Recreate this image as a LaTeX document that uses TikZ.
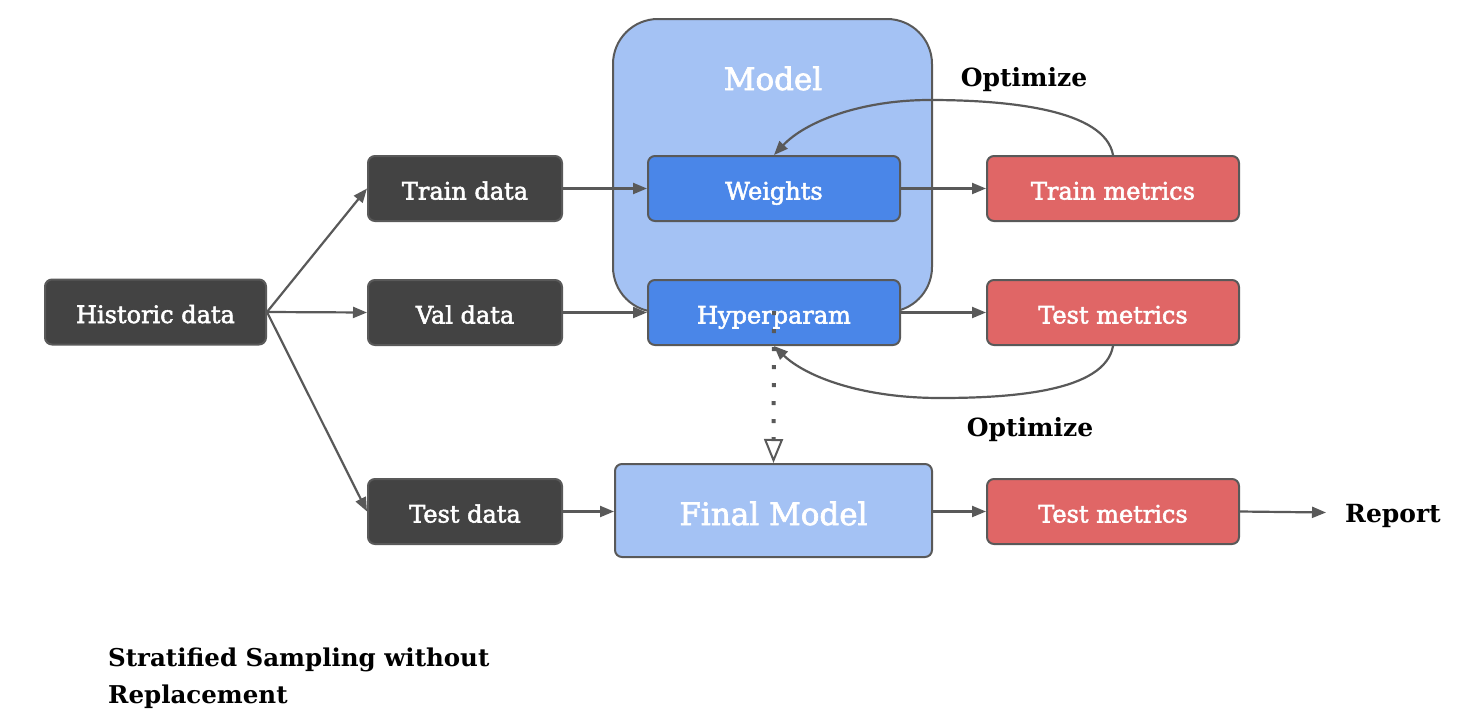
\documentclass[tikz,border=0pt]{standalone}
\usepackage{fontspec}
\setmainfont{DejaVu Serif}
\newfontfamily\boxfont{DejaVu Serif}[FakeBold=2.2]
\usetikzlibrary{arrows.meta}
\definecolor{darkbox}{HTML}{434343}
\definecolor{edgegray}{HTML}{595959}
\definecolor{lightblue}{HTML}{A4C2F4}
\definecolor{midblue}{HTML}{4A86E8}
\definecolor{redbox}{HTML}{E06666}
\tikzset{
  x=1pt, y=-1pt,
  box/.style={draw=edgegray, line width=2pt, rounded corners=7pt, inner sep=0pt,
    minimum height=65pt, text=white, text height=25pt, text depth=3pt,
    font=\boxfont\fontsize{24}{28}\selectfont},
  databox/.style={box, fill=darkbox, minimum width=194pt},
  bluebox/.style={box, fill=midblue, minimum width=252pt},
  redmetric/.style={box, fill=redbox, minimum width=252pt},
  lbl/.style={font=\bfseries\fontsize{25}{29}\selectfont, text=black, inner sep=0pt, anchor=base},
  conn/.style={draw=edgegray, line width=2.2pt, -{Triangle[length=14pt,width=11pt]}},
}
\begin{document}
\begin{tikzpicture}
\useasboundingbox (0,0) rectangle (1465,726);
% big model box
\node[draw=edgegray, line width=2pt, fill=lightblue, rounded corners=45pt,
  minimum width=319pt, minimum height=293pt, inner sep=0pt] (model) at (772.5,165.5) {};
\node[text=white, font=\boxfont\fontsize{31}{35}\selectfont, inner sep=0pt, anchor=base] (modeltitle) at (773,90) {Model};

\node[databox, minimum width=221pt] (hist) at (155.5,312) {Historic data};
\node[databox] (train) at (465,188.5) {Train data};
\node[databox] (val) at (465,312.5) {Val data};
\node[databox] (test) at (465,511.5) {Test data};

\node[bluebox] (weights) at (774,188.5) {Weights};
\node[bluebox] (hyper) at (774,312.5) {Hyperparam};

\node[redmetric] (trainm) at (1113,188.5) {Train metrics};
\node[redmetric] (testm) at (1113,312.5) {Test metrics};
\node[redmetric] (testm2) at (1113,511.5) {Test metrics};

\node[box, fill=lightblue, minimum width=317pt, minimum height=93pt, text height=31pt, text depth=2pt,
  font=\boxfont\fontsize{31}{35}\selectfont] (final) at (773.5,510.5) {Final Model};

\node[lbl] (report) at (1393,522) {Report};
\node[lbl] (opt1) at (1024,86) {Optimize};
\node[lbl] (opt2) at (1030,436) {Optimize};
\node[lbl, anchor=north west, align=left, font=\bfseries\fontsize{24.5}{37}\selectfont] (strat) at (108,648) {Stratified Sampling without\\Replacement};

% connectors
\draw[conn] (hist.east) -- (train.west);
\draw[conn] (hist.east) -- (val.west);
\draw[conn] (hist.east) -- (test.west);
\draw[conn] (train) -- (weights);
\draw[conn] (val) -- (hyper);
\draw[conn] (test.east) -- (final.west |- test.east);
\draw[conn] (weights) -- (trainm);
\draw[conn] (hyper) -- (testm);
\draw[conn] (final.east |- testm2.west) -- (testm2.west);
\coordinate (reportin) at (1326,512.5);
\draw[conn] (testm2.east) -- (reportin);
\coordinate (toppeak) at (930,100);
\coordinate (botpeak) at (940,398);
\draw[conn] (trainm.north) .. controls (1105,110) and (1010,100) .. (toppeak)
  .. controls (860,100) and (805,122) .. (weights.north);
\draw[conn] (testm.south) .. controls (1105,392) and (1010,398) .. (botpeak)
  .. controls (860,398) and (805,376) .. (hyper.south);
\coordinate (dotstart) at (774,311);
\draw[draw=edgegray, line width=4pt, dash pattern=on 4pt off 14pt,
  -{Triangle[open, length=24pt, width=19pt, line width=2pt]}] (dotstart) -- (final.north);
\end{tikzpicture}
\end{document}
